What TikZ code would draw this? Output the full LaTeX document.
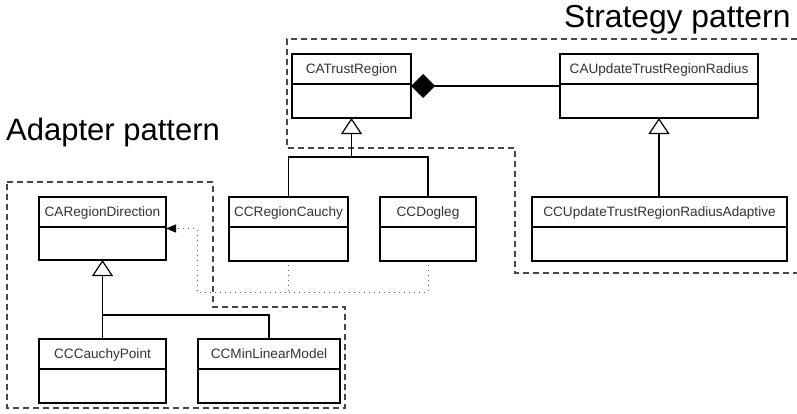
\documentclass[tikz,border=0pt]{standalone}
\usepackage{fontspec}
\setmainfont{Liberation Sans}
\usetikzlibrary{arrows.meta,calc}
\definecolor{txtgray}{RGB}{51,51,51}
\definecolor{dashgray}{RGB}{70,70,70}
\definecolor{dotgray}{RGB}{100,100,100}
\newcommand\umlbox[6]{%
  \node[cls, minimum width={(#4-#2)*1pt}, minimum height={(#5-#3)*1pt}] (#1) at ({(#2+#4)/2},{(#3+#5)/2}) {};
  \draw[clsline] ($(#1.north west)+(0,30)$) -- ($(#1.north east)+(0,30)$);
  \node[lbl] (#1-t) at ($(#1.north)+(0,19)$) {#6};
}
\begin{document}
\begin{tikzpicture}[x=1pt,y=-1pt,
  cls/.style={draw=black,line width=1.2pt,fill=white,inner sep=0pt,outer sep=0pt},
  clsline/.style={draw=black,line width=1.2pt},
  lbl/.style={anchor=base,inner sep=0pt,text=txtgray,font=\fontsize{13.6}{16}\selectfont},
  ttl/.style={anchor=base west,inner sep=0pt,text=black,font=\fontsize{31}{36}\selectfont},
  grp/.style={draw=dashgray,line width=1.2pt,dash pattern=on 6pt off 4pt},
  inh/.style={draw=black,line width=1.2pt,-{Triangle[open,length=16pt,width=21pt,fill=white]}},
  conn/.style={draw=black,line width=1.2pt},
  comp/.style={draw=black,line width=1.2pt,{Diamond[length=24pt,width=24pt,fill=black]}-},
  dep/.style={draw=dotgray,line width=1pt,dash pattern=on 1pt off 4pt},
  deparrow/.style={dep,-{Triangle[length=10pt,width=8pt,fill=black,color=black]}}
]
\useasboundingbox (0,0) rectangle (797,413);

% group frames
\draw[grp] (797,39) -- (287,39) -- (287,148) -- (515,148) -- (515,273) -- (797,273);
\draw[grp] (7,182) -- (213,182) -- (213,307) -- (345,307) -- (345,408) -- (7,408) -- cycle;

% titles
\node[ttl,font=\fontsize{31.8}{36}\selectfont] (strat) at (564,27) {Strategy pattern};
\node[ttl] (adapt) at (6,140) {Adapter pattern};

% classes
\umlbox{tr}{292}{54}{411}{118}{CATrustRegion}
\umlbox{ut}{560}{54}{758}{118}{CAUpdateTrustRegionRadius}
\umlbox{rc}{229}{197}{348}{261}{CCRegionCauchy}
\umlbox{dl}{380}{197}{476}{261}{CCDogleg}
\umlbox{ua}{532}{197}{787}{261}{CCUpdateTrustRegionRadiusAdaptive}
\umlbox{rd}{39}{197}{166}{260}{CARegionDirection}
\umlbox{cp}{39}{339}{166}{403}{CCCauchyPoint}
\umlbox{ml}{198}{339}{340}{403}{CCMinLinearModel}

% composition
\draw[comp] (tr.east) -- (ut.west);

% inheritance
\coordinate (j1) at (351.5,157);
\draw[conn] (rc.north) |- (j1);
\draw[conn] (dl.north) |- (j1);
\draw[inh] (j1) -- (tr.south);
\draw[inh] (ua.north -| ut.south) -- (ut.south);
\coordinate (j2) at (102.5,315);
\draw[conn] (ml.north) |- (j2);
\draw[conn] (cp.north) -- (j2);
\draw[inh] (j2) -- (rd.south);

% dependency (dotted)
\coordinate (d1) at (197,292);
\draw[deparrow] ($(rc.south)+(0,4)$) |- (d1) |- (rd.east);
\draw[dep] ($(dl.south)+(0,4)$) |- (rc.south |- d1);
\end{tikzpicture}
\end{document}
